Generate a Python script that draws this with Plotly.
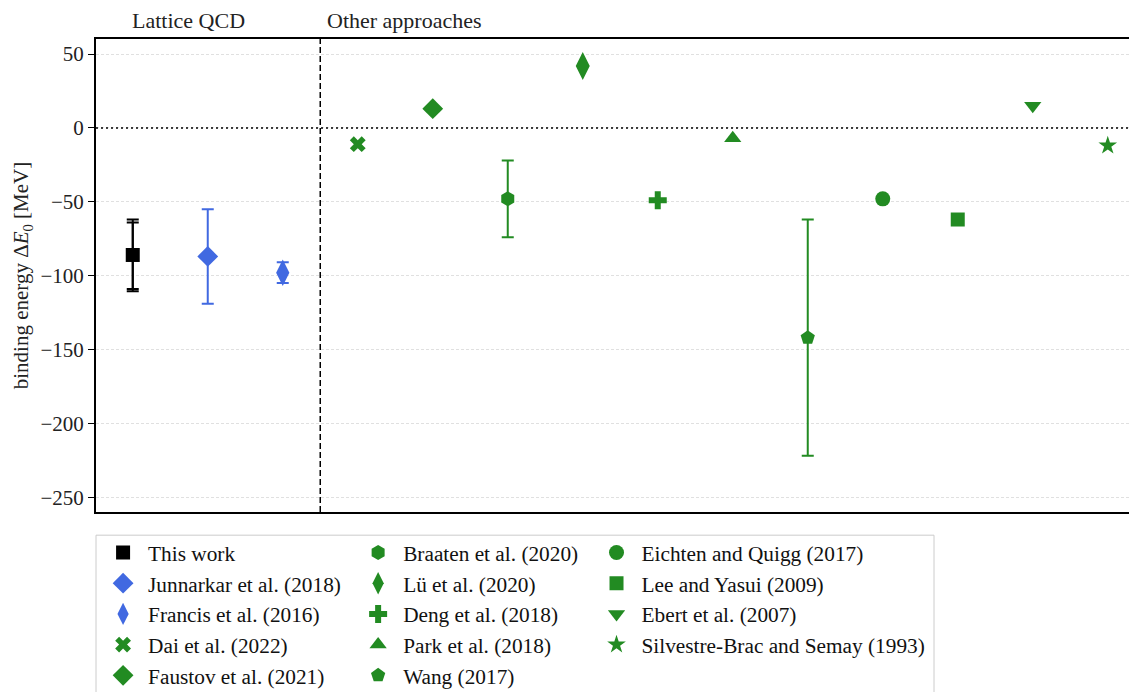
import plotly.graph_objects as go

# binding energies (MeV) for the bb-ud tetraquark
labels = ["This work", "Junnarkar et al. (2018)", "Francis et al. (2016)",
          "Dai et al. (2022)", "Faustov et al. (2021)", "Braaten et al. (2020)",
          "Lü et al. (2020)", "Deng et al. (2018)", "Park et al. (2018)",
          "Wang (2017)", "Eichten and Quigg (2017)", "Lee and Yasui (2009)",
          "Ebert et al. (2007)", "Silvestre-Brac and Semay (1993)"]
values = [-86, -87, -98, -11, 13, -48, 42, -49, -7, -142, -48, -62, 15, -12]
err_plus = [24, 32, 7, 0, 0, 26, 0, 0, 0, 80, 0, 0, 0, 0]
err_minus = [23, 32, 7, 0, 0, 26, 0, 0, 0, 80, 0, 0, 0, 0]
# second (overlaid) error for this work
work_err_plus = [22]
work_err_minus = [24.5]

symbols = ["square", "diamond", "diamond-tall", "x", "diamond", "hexagon",
           "diamond-tall", "cross", "triangle-up", "pentagon", "circle",
           "square", "triangle-down", "star"]
sizes = [14, 16, 19, 14, 16, 15, 20, 15, 15, 15, 15, 14, 15, 14]
colors = ["black", "royalblue", "royalblue"] + ["forestgreen"] * 11

FONT = "Liberation Serif"

fig = go.Figure()

# matplotlib-style column-major legend split into 3 columns
cols = [0, 0, 0, 0, 0, 1, 1, 1, 1, 1, 2, 2, 2, 2]
legend_ids = ["legend", "legend2", "legend3"]

for i, lab in enumerate(labels):
    fig.add_trace(go.Scatter(
        x=[i], y=[values[i]], mode="markers", name=lab,
        marker=dict(symbol=symbols[i], size=sizes[i], color=colors[i],
                    line=dict(width=0)),
        error_y=dict(type="data", symmetric=False, array=[err_plus[i]],
                     arrayminus=[err_minus[i]], color=colors[i],
                     thickness=2, width=6, visible=err_plus[i] > 0),
        legend=legend_ids[cols[i]],
    ))

fig.add_trace(go.Scatter(
    x=[0], y=[values[0]], mode="markers", showlegend=False,
    marker=dict(symbol="square", size=1, color="black", opacity=0),
    error_y=dict(type="data", symmetric=False, array=work_err_plus,
                 arrayminus=work_err_minus, color="black", thickness=2, width=6),
))

fig.add_vline(x=2.5, line=dict(color="black", width=1.5, dash="6px,3px"))
fig.add_hline(y=0, line=dict(color="black", width=1.5, dash="2px,3px"))

fig.add_annotation(x=0, y=1.0, xref="x", yref="paper", yanchor="bottom",
                   xanchor="left", text="Lattice QCD", showarrow=False,
                   yshift=4, xshift=-3, font=dict(family=FONT, size=22, color="#222"))
fig.add_annotation(x=2.6, y=1.0, xref="x", yref="paper", yanchor="bottom",
                   xanchor="left", text="Other approaches", showarrow=False,
                   yshift=4, xshift=-3, font=dict(family=FONT, size=22, color="#222"))

# legend frame
fig.add_shape(type="rect", xref="paper", yref="paper", x0=0, x1=0.805,
              y0=-0.42, y1=-0.049, line=dict(color="#cccccc", width=1))

leg_common = dict(font=dict(family=FONT, size=21.3, color="#111"),
                  bgcolor="rgba(0,0,0,0)", yanchor="top", xanchor="left",
                  yref="container", y=0.2425, tracegroupgap=0, itemwidth=40)
# page is drawn with an 8px body margin, so offsets compensate for it
fig.update_layout(
    width=1137, height=692,
    margin=dict(l=88, r=8, t=31, b=188, autoexpand=False),
    plot_bgcolor="white", paper_bgcolor="white",
    font=dict(family=FONT, size=21, color="#111"),
    legend=dict(x=0.002, **leg_common),
    legend2=dict(x=0.247, **leg_common),
    legend3=dict(x=0.476, **leg_common),
)
fig.update_xaxes(range=[-0.49, 13.39], showticklabels=False, ticks="",
                 showgrid=False, zeroline=False, showline=True, mirror=True,
                 linecolor="black", linewidth=2)
fig.update_yaxes(range=[-260, 60.2], tickvals=[-250, -200, -150, -100, -50, 0, 50],
                 showgrid=True, gridcolor="#e0e0e0", griddash="3px,2px", gridwidth=1,
                 zeroline=False, showline=True, linecolor="black", linewidth=2,
                 ticks="outside", ticklen=6, tickcolor="black",
                 tickfont=dict(family=FONT, size=21, color="#222"),
                 title=dict(text="binding energy Δ<i>E</i><sub>0</sub> [MeV]",
                            font=dict(family=FONT, size=21, color="#222"), standoff=6))

fig.write_html("out.html")
